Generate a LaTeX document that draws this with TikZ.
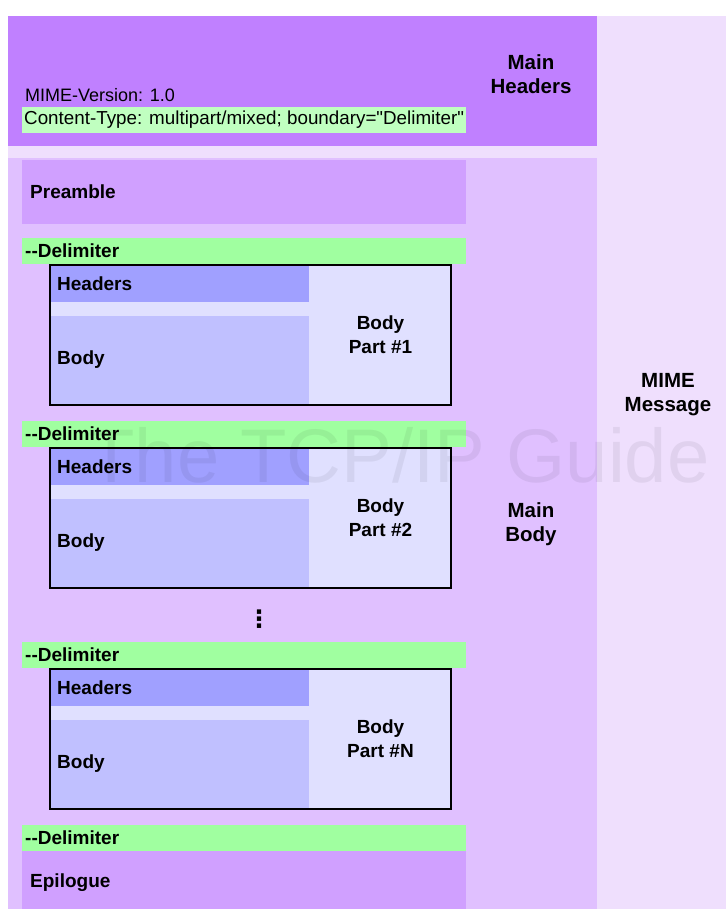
\documentclass[tikz,border=0pt]{standalone}
\usepackage{fontspec}
\setmainfont{Liberation Sans}
\newfontfamily\rawfont{Liberation Sans}[Ligatures=TeXOff]
\newfontfamily\dotsfont{DejaVu Sans}
\usetikzlibrary{positioning}

\definecolor{msgbg}{HTML}{EFDFFD}
\definecolor{hdrbg}{HTML}{C080FF}
\definecolor{bodybg}{HTML}{E0C0FF}
\definecolor{prebg}{HTML}{D0A0FF}
\definecolor{delimbg}{HTML}{A0FFA0}
\definecolor{ctypebg}{HTML}{C0FFC0}
\definecolor{partbg}{HTML}{E0E0FF}
\definecolor{parthdr}{HTML}{A0A0FF}
\definecolor{partbody}{HTML}{C0C0FF}

\newcommand{\dashdash}{-{}-}

\begin{document}
\begin{tikzpicture}[x=1pt,y=-1pt,
  area/.style={rectangle,anchor=north west,inner sep=0pt,outer sep=0pt},
  delim/.style={area,fill=delimbg,minimum width=444pt,minimum height=26pt},
  part/.style={area,fill=partbg,draw=black,line width=2pt,minimum width=401pt,minimum height=140pt},
  lbl/.style={inner sep=0pt,anchor=west,font=\bfseries\fontsize{19}{24}\selectfont},
  biglbl/.style={inner sep=0pt,align=center,font=\bfseries\fontsize{20.5}{24}\selectfont}]
\useasboundingbox (0,0) rectangle (726,909);
\fill[white] (0,0) rectangle (726,909);

% message, main headers and main body
\node[area,fill=msgbg,minimum width=718pt,minimum height=893pt] (msg) at (8,16) {};
\node[area,fill=hdrbg,minimum width=589pt,minimum height=130pt] (mainhdr) at (8,16) {};
\node[area,fill=bodybg,minimum width=589pt,minimum height=751pt] (mainbody) at (8,158) {};

\node[inner sep=0pt,anchor=west,font=\fontsize{18}{22}\selectfont] (ver) at (25,95) {MIME-Version: 1.0};
\node[area,fill=ctypebg,minimum width=444pt,minimum height=26pt] (ctype) at (22,107) {};
\node[inner sep=0pt,anchor=west,font=\rawfont\fontsize{18.8}{22}\selectfont,right=2pt of ctype.west] (ctypetxt)
  {Content-Type: multipart/mixed; boundary="Delimiter"};

\node[area,fill=prebg,minimum width=444pt,minimum height=64pt] (pre) at (22,160) {};
\node[lbl,right=8pt of pre.west] (pretxt) {Preamble};

% body parts
\foreach \n/\y in {1/238,2/421,N/642} {
  \node[delim] (d\n) at (22,\y) {};
  \node[lbl,right=3pt of d\n.west] {\dashdash Delimiter};
  \node[part] (p\n) at (50,\y+27) {};
  \node[area,fill=parthdr,minimum width=258pt,minimum height=36pt] (h\n) at (51,\y+28) {};
  \node[area,fill=partbody,minimum width=258pt,minimum height=88pt] (b\n) at (51,\y+78) {};
  \node[lbl,right=6pt of h\n.west] {Headers};
  \node[lbl,right=6pt of b\n.west] {Body};
  \node[lbl,anchor=center,align=center] (t\n) at (380.5,\y+97) {Body\\Part \#\n};
}

\node[inner sep=0pt,font=\dotsfont\bfseries\fontsize{24}{24}\selectfont] (more) at (259,619) {⋮};

\node[delim] (dlast) at (22,825) {};
\node[lbl,right=3pt of dlast.west] {\dashdash Delimiter};
\node[area,fill=prebg,minimum width=444pt,minimum height=58pt] (epi) at (22,851) {};
\node[lbl,right=8pt of epi.west,yshift=-3pt] (epitxt) {Epilogue};

\node[biglbl] (hdrtxt) at (531,74) {Main\\Headers};
\node[biglbl] (bodytxt) at (531,524) {Main\\Body};
\node[biglbl] (msgtxt) at (668,395) {MIME\\Message};

\node[inner sep=0pt,anchor=base,opacity=0.06,font=\fontsize{76}{76}\selectfont] (wm) at (399,482) {The TCP/IP Guide};
\end{tikzpicture}
\end{document}
